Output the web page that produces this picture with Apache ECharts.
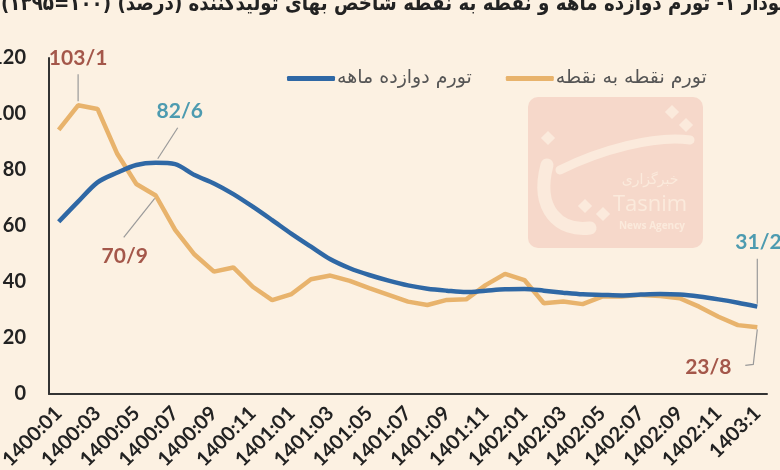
<!DOCTYPE html>
<html><head><meta charset="utf-8">
<script src="https://cdn.jsdelivr.net/npm/echarts@6/dist/echarts.min.js"></script>
<style>html,body{margin:0;padding:0;background:#fcf1e2;overflow:hidden}#c{width:780px;height:470px}</style>
</head><body><div id="c"></div>
<script>
const categories = ['1400:01','1400:02','1400:03','1400:04','1400:05','1400:06','1400:07','1400:08','1400:09','1400:10','1400:11','1400:12',
  '1401:01','1401:02','1401:03','1401:04','1401:05','1401:06','1401:07','1401:08','1401:09','1401:10','1401:11','1401:12',
  '1402:01','1402:02','1402:03','1402:04','1402:05','1402:06','1402:07','1402:08','1402:09','1402:10','1402:11','1402:12','1403:1'];
const twelveMonth = [61.5,68.7,75.6,79.0,81.8,82.6,82.1,78.2,75.2,71.4,66.9,62.1,57.2,52.6,48.1,44.9,42.5,40.5,38.8,37.6,36.9,36.4,36.9,37.4,37.5,36.9,36.2,35.6,35.4,35.2,35.5,35.7,35.5,34.8,33.8,32.6,31.2];
const pointToPoint = [94.3,103.1,101.8,86.0,75.0,70.9,58.6,49.8,43.7,45.2,38.3,33.5,35.7,41.0,42.3,40.4,37.8,35.4,33.0,31.8,33.6,33.8,38.9,42.9,40.7,32.4,33.0,32.1,34.8,34.8,35.4,35.0,34.2,31.2,27.6,24.6,23.8];
const seriesNames = ['تورم دوازده ماهه','تورم نقطه به نقطه'];
const titleText = 'نمودار ۱- تورم دوازده ماهه و نقطه به نقطه شاخص بهای تولیدکننده (درصد) (۱۰۰=۱۳۹۵)';
// annotated points: [seriesIndex, dataIndex]
const annotated = [[1,1],[0,5],[1,5],[0,36],[1,36]];

const BLUE = '#2f68a5', ORANGE = '#e8b36c', BROWN = '#a4574a', TEAL = '#4d9bb0';

const chart = echarts.init(document.getElementById('c'), null, {renderer:'canvas'});
chart.setOption({
  backgroundColor: '#fcf1e2',
  animation: false,
  grid: {left: 49, right: 13, top: 58, bottom: 76, containLabel: false, outerBoundsMode: 'none'},
  legend: {
    data: seriesNames, left: 282, top: 64, icon: 'roundRect', itemWidth: 48, itemHeight: 5, itemGap: 34,
    textStyle: {fontSize: 19, color: '#555', fontFamily: 'DejaVu Sans', padding: [0, 0, 0, -3]}
  },
  xAxis: {
    type: 'category', data: categories, boundaryGap: true,
    axisLine: {lineStyle: {color: '#333', width: 2}},
    axisTick: {show: false},
    axisLabel: {interval: 1, rotate: 45, fontSize: 20, fontWeight: 'bold', color: '#222', margin: 16, fontFamily: 'Lato'}
  },
  yAxis: {
    type: 'value', min: 0, max: 120, interval: 20,
    splitLine: {show: false},
    axisLine: {show: true, lineStyle: {color: '#333', width: 2}},
    axisTick: {show: false},
    axisLabel: {fontSize: 20, fontWeight: 'bold', color: '#222', margin: 23, fontFamily: 'Lato'}
  },
  series: [
    {name: seriesNames[0], type: 'line', data: twelveMonth, symbol: 'none', smooth: 0.3, color: BLUE,
     lineStyle: {width: 4.5, color: BLUE}, z: 3},
    {name: seriesNames[1], type: 'line', data: pointToPoint, symbol: 'none', color: ORANGE,
     lineStyle: {width: 4.5, color: ORANGE}, z: 2}
  ]
});

// annotation styling (offsets from the data point, in px)
const annStyle = {
  '1,1':  {color: BROWN, dx: 0,   dy: -47, align: 'center', line: [[0,-4],[0,-31]]},
  '0,5':  {color: TEAL,  dx: 24,  dy: -51, align: 'center', line: [[2,-4],[22,-35]]},
  '1,5':  {color: BROWN, dx: -31, dy: 61,  align: 'center', line: [[-1,3],[-32,42]]},
  '0,36': {color: TEAL,  dx: -22, dy: -64, align: 'left',   line: [[0,-3],[0,-48]]},
  '1,36': {color: BROWN, dx: -49, dy: 40,  align: 'center', line: [[0,2],[-4,37],[-12,38]]}
};
const seriesData = [twelveMonth, pointToPoint];
const graphics = [];
const WM = '#fbeadc';
// watermark
graphics.push({type:'rect', shape:{x:528,y:97,width:175,height:151,r:10}, style:{fill:'#f6d8ca'}, z:0, silent:true});
graphics.push({type:'bezierCurve', shape:{x1:547,y1:165,x2:590,y2:228,cpx1:535,cpy1:210,cpx2:560,cpy2:232}, style:{stroke:WM, lineWidth:13, fill:null, lineCap:'round'}, z:0});
graphics.push({type:'bezierCurve', shape:{x1:560,y1:170,x2:690,y2:140,cpx1:600,cpy1:150,cpx2:655,cpy2:135}, style:{stroke:WM, lineWidth:9, fill:null, lineCap:'round'}, z:0});
[[548,138],[672,112],[686,125],[585,206],[603,214]].forEach(p=>{
  graphics.push({type:'rect', shape:{x:-5,y:-5,width:10,height:10}, x:p[0], y:p[1], rotation:Math.PI/4, style:{fill:WM}, z:0});
});
graphics.push({type:'text', x:650, y:180, style:{text:'خبرگزاری', fontSize:14, fill:WM, align:'center', verticalAlign:'middle', fontFamily:'DejaVu Sans'}, z:0});
graphics.push({type:'text', x:650, y:205, style:{text:'Tasnim', fontSize:22, fill:WM, align:'center', verticalAlign:'middle', fontFamily:'Open Sans'}, z:0});
graphics.push({type:'text', x:652, y:226, style:{text:'News Agency', fontSize:10, fontWeight:'bold', fill:WM, align:'center', verticalAlign:'middle', fontFamily:'Open Sans'}, z:0});
// title (partially cut off at the top and the right), narrowed to the reference's width
graphics.push({type:'text', x:1, y:-6, scaleX:0.87, style:{text: titleText, fontSize:21, fontWeight:'bold', fill:'#222', align:'left', verticalAlign:'top', fontFamily:'DejaVu Sans'}, z:5});

annotated.forEach(([s,i]) => {
  const st = annStyle[s+','+i];
  const v = seriesData[s][i];
  const p = chart.convertToPixel({seriesIndex: s}, [i, v]);
  graphics.push({type:'polyline', shape:{points: st.line.map(o=>[p[0]+o[0], p[1]+o[1]])}, style:{stroke:'#9a9a9a', lineWidth:1.2, fill:null}, z:4});
  graphics.push({type:'text', x:p[0]+st.dx, y:p[1]+st.dy, style:{text: String(v).replace('.', '/'), fontSize:21, fontWeight:'bold', fill: st.color, align: st.align, verticalAlign:'middle', fontFamily:'Lato'}, z:5});
});
chart.setOption({graphic: graphics});
</script>
</body></html>
